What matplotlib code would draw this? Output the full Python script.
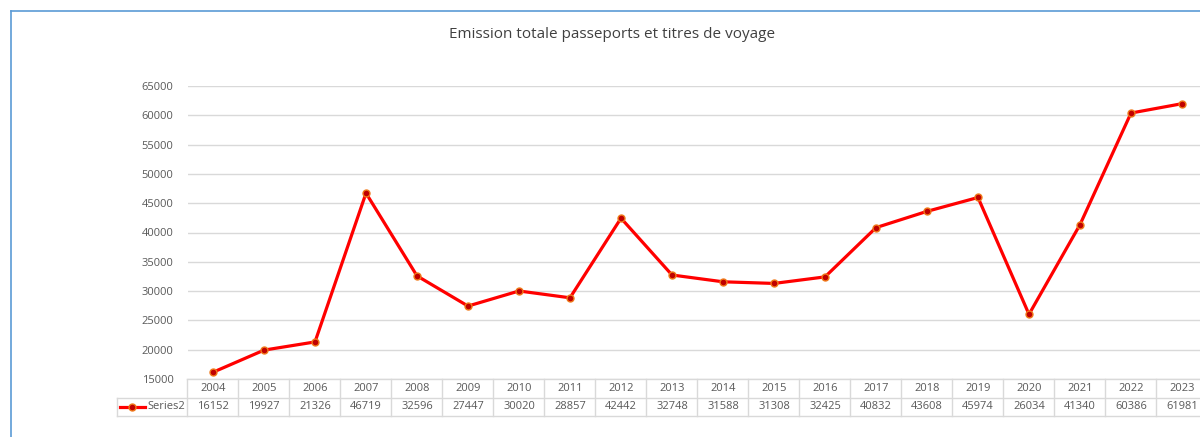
import numpy as np
import matplotlib
matplotlib.use("Agg")
import matplotlib.pyplot as plt
from matplotlib.lines import Line2D

years = ["2004", "2005", "2006", "2007", "2008", "2009", "2010", "2011", "2012", "2013",
         "2014", "2015", "2016", "2017", "2018", "2019", "2020", "2021", "2022", "2023"]
values = [16152, 19927, 21326, 46719, 32596, 27447, 30020, 28857, 42442, 32748,
          31588, 31308, 32425, 40832, 43608, 45974, 26034, 41340, 60386, 61981]
series_name = "Series2"
title = "Emission totale passeports et titres de voyage"

W, H = 1200, 437
fig = plt.figure(figsize=(W / 100, H / 100), dpi=100)
plt.rcParams['font.family'] = ['Open Sans', 'DejaVu Sans']

txt_col = "#595959"
grid_col = "#D9D9D9"
n = len(years)
col_w = 51.0
x0 = 187.5                      # left edge of the plot area, px
x1 = x0 + n * col_w             # goes past the right edge, like the reference
y_top, y_bot = 86.0 - 29.3 * 0 - 0, 379.0   # 65000 line / 15000 line, px

# main plot area (top of axes = 65000 line)
ax = fig.add_axes([x0 / W, 1 - y_bot / H, (x1 - x0) / W, (y_bot - y_top) / H])
x = np.arange(n)
ax.plot(x, values, color="#FF0000", lw=2.3, marker="o", ms=5,
        mfc="#C00000", mec="#F07A1A", mew=1.0, zorder=3, clip_on=False)
ax.set_xlim(-0.5, n - 0.5)
ax.set_ylim(15000, 65000)
ax.set_yticks(np.arange(15000, 65001, 5000))
ax.yaxis.grid(True, color=grid_col, lw=1)
ax.set_axisbelow(True)
ax.set_xticks([])
for s in ax.spines.values():
    s.set_visible(False)
ax.tick_params(axis="y", length=0, labelsize=8, labelcolor=txt_col, pad=10)

# data table below the plot
legend_w = x0 - 117.0
row1, row2 = 379.0, 416.0
tab = fig.add_axes([117.0 / W, 1 - row2 / H, (x1 - 117.0) / W, (row2 - row1) / H])
tab.set_xlim(-0.5 - legend_w / col_w, n - 0.5)
tab.set_ylim(0, 2)
tab.axis("off")
lk = dict(color=grid_col, lw=1, clip_on=False)
tab.plot([-0.5 - legend_w / col_w, n - 0.5], [0, 0], **lk)
tab.plot([-0.5 - legend_w / col_w, n - 0.5], [1, 1], **lk)
tab.plot([-0.5, n - 0.5], [2, 2], **lk)
tab.plot([-0.5 - legend_w / col_w] * 2, [0, 1], **lk)
for i in range(n + 1):
    tab.plot([i - 0.5, i - 0.5], [0, 2], **lk)
for i in range(n):
    tab.text(i, 1.5, years[i], ha="center", va="center", fontsize=8, color=txt_col)
    tab.text(i, 0.5, str(values[i]), ha="center", va="center", fontsize=8, color=txt_col)

# legend key in the table
lx = -0.5 - legend_w / col_w
tab.plot([lx + 0.05, lx + 0.55], [0.5, 0.5], color="#FF0000", lw=2.3, clip_on=False)
tab.plot([lx + 0.3], [0.5], marker="o", ms=5, mfc="#C00000", mec="#F07A1A",
         mew=1.0, clip_on=False)
tab.text(-0.55, 0.5, series_name, ha="right", va="center", fontsize=8, color=txt_col)

fig.text(612 / W, 1 - 35 / H, title, ha="center", va="center", fontsize=11, color="#404040")

# blue chart frame (left and top edges visible)
fig.add_artist(Line2D([11 / W, 11 / W], [0, 1 - 11 / H], color="#5B9BD5", lw=1.2,
                      transform=fig.transFigure))
fig.add_artist(Line2D([11 / W, 1], [1 - 11 / H, 1 - 11 / H], color="#5B9BD5", lw=1.2,
                      transform=fig.transFigure))

fig.savefig("out.png", dpi=100)
